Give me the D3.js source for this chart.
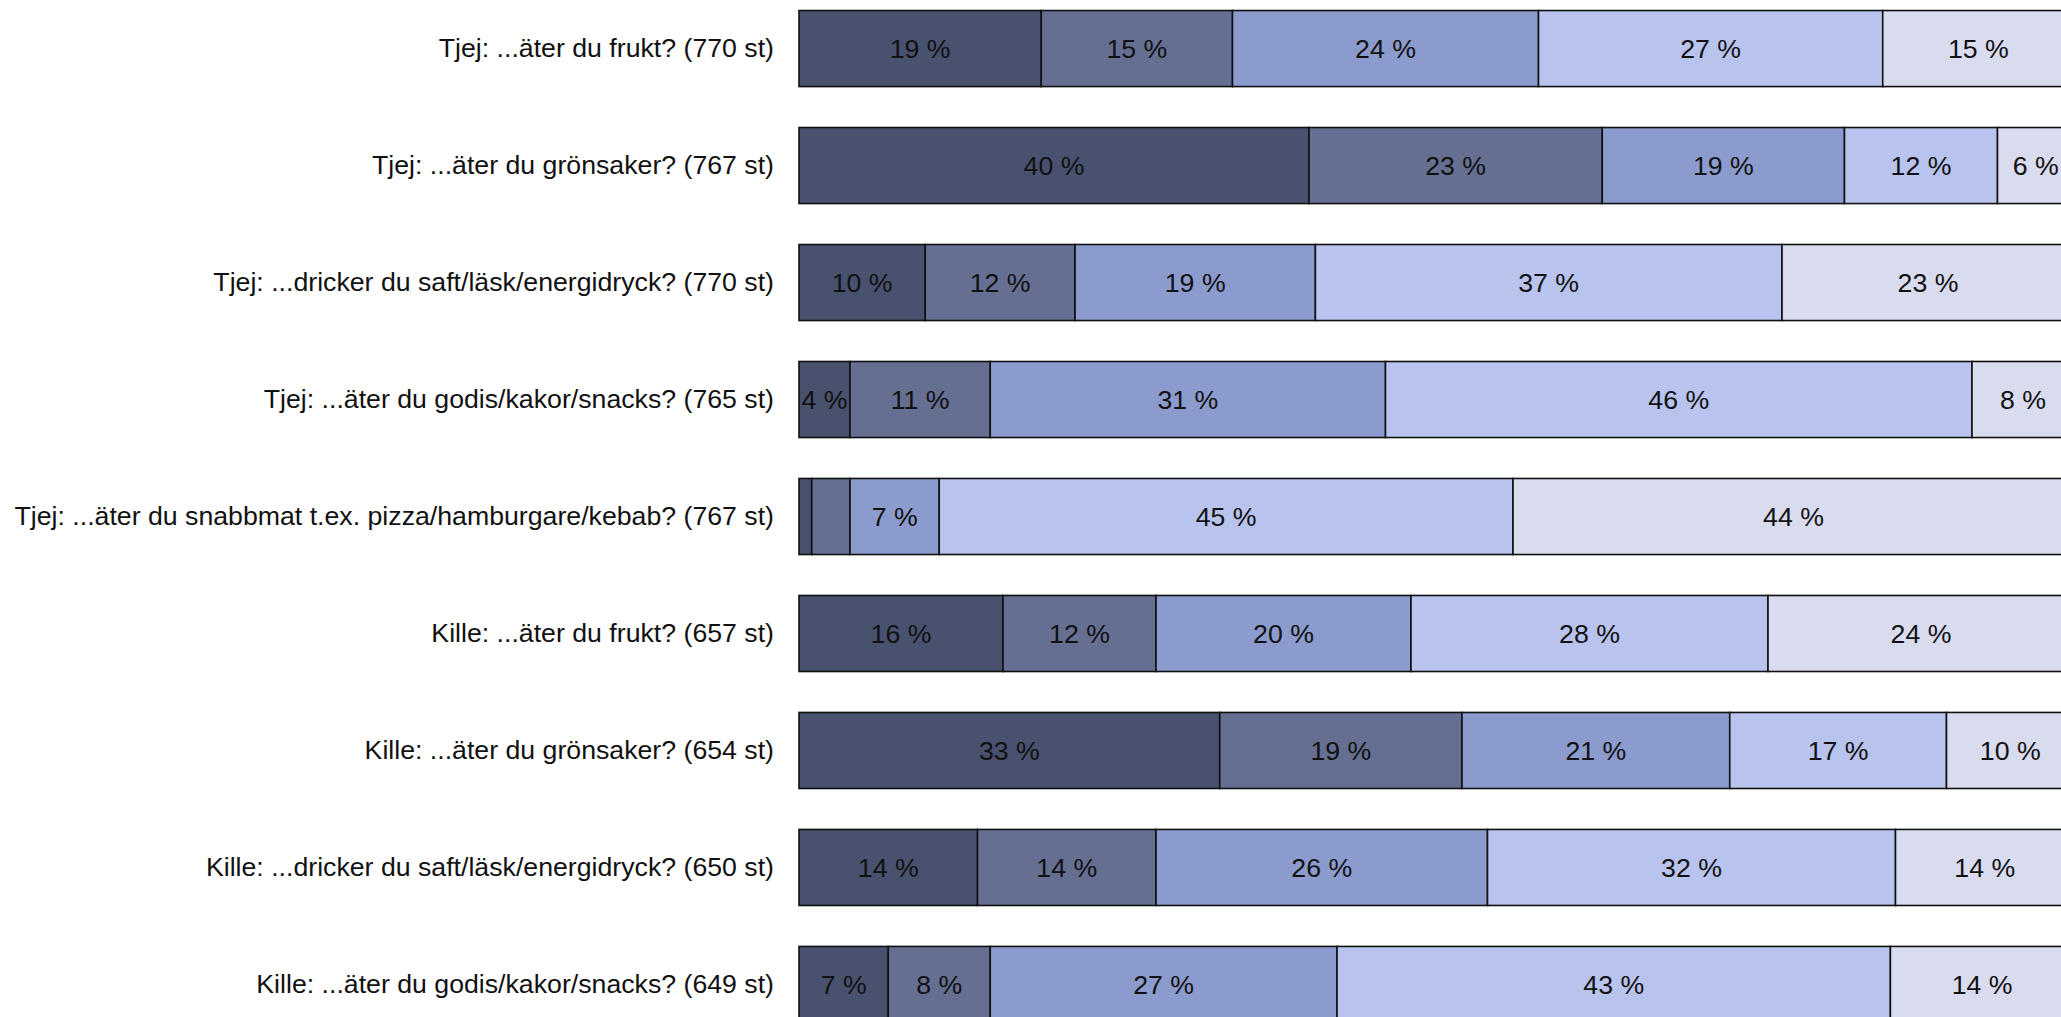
<!DOCTYPE html>
<meta charset="utf-8">
<style>
    body{ margin:0; background:#fff; }
    svg{ display:block; overflow:hidden; }
    text{ font-family:"Liberation Sans", Arial, sans-serif; }
</style>
<div class="chart"></div>
<script src="https://d3js.org/d3.v7.min.js"></script>
<script>

var questions = [
    "Tjej: ...äter du frukt? (770 st)",
    "Tjej: ...äter du grönsaker? (767 st)",
    "Tjej: ...dricker du saft/läsk/energidryck? (770 st)",
    "Tjej: ...äter du godis/kakor/snacks? (765 st)",
    "Tjej: ...äter du snabbmat t.ex. pizza/hamburgare/kebab? (767 st)",
    "Kille: ...äter du frukt? (657 st)",
    "Kille: ...äter du grönsaker? (654 st)",
    "Kille: ...dricker du saft/läsk/energidryck? (650 st)",
    "Kille: ...äter du godis/kakor/snacks? (649 st)"
]

// one array per answer step, in the order of the questions
var answer1 = [19, 40, 9.9, 4, 1, 16, 33, 14, 7]
var answer2 = [15, 23, 11.75, 11, 3, 12, 19, 14, 8]
var answer3 = [24, 19, 18.85, 31, 7, 20, 21, 26, 27.2]
var answer4 = [27, 12, 36.6, 46, 45, 28, 17, 32, 43.4]
var answer5 = [15, 6, 22.9, 8, 44, 24, 10, 14, 14.4]

var colors = ["#48516e", "#646f91", "#8b9bcd", "#b8c4ed", "#d9dcef"]

var series = [answer1, answer2, answer3, answer4, answer5]

var svg = d3.select(".chart").append("svg").attr("width", 2061).attr("height", 1017),
    margin = {top: 0, left: 799},
    width = 1275,
    g = svg.append("g").attr("transform", "translate(" + margin.left + "," + margin.top + ")");

var x = d3.scaleLinear()
    .domain([0, 100])
    .range([0, width]);

var y = d3.scaleBand()
    .domain(questions)
    .range([0, 1033])
    .paddingInner(0.35)
    .paddingOuter(0.09);

// stack the answers per question
var rows = questions.map(function(q, i) {
    var start = 0
    return series.map(function(s, k) {
        var seg = {q: q, k: k, v: s[i], x0: start, x1: start + s[i]}
        start += s[i]
        return seg
    })
})
var segs = [].concat.apply([], rows)

g.selectAll("rect.seg")
    .data(segs)
  .enter().append("rect")
    .attr("class", "seg")
    .attr("x", function(d) { return x(d.x0); })
    .attr("y", function(d) { return y(d.q); })
    .attr("width", function(d) { return x(d.x1) - x(d.x0); })
    .attr("height", y.bandwidth())
    .attr("fill", function(d) { return colors[d.k]; })
    .attr("stroke", "#111")
    .attr("stroke-width", 1.6);

g.selectAll("text.val")
    .data(segs.filter(function(d) { return d.v >= 4; }))
  .enter().append("text")
    .attr("class", "val")
    .attr("x", function(d) { return x((d.x0 + d.x1) / 2); })
    .attr("y", function(d) { return y(d.q) + y.bandwidth() / 2; })
    .attr("dy", "0.35em")
    .attr("text-anchor", "middle")
    .attr("font-size", 26.7)
    .attr("fill", "#111")
    .text(function(d) { return Math.round(d.v) + " %"; });

g.append("g")
    .call(d3.axisLeft(y).tickSize(0).tickPadding(25))
    .call(function(a) { a.select(".domain").remove(); })
    .selectAll("text")
      .attr("font-size", 26.7)
      .attr("fill", "#111");

</script>
